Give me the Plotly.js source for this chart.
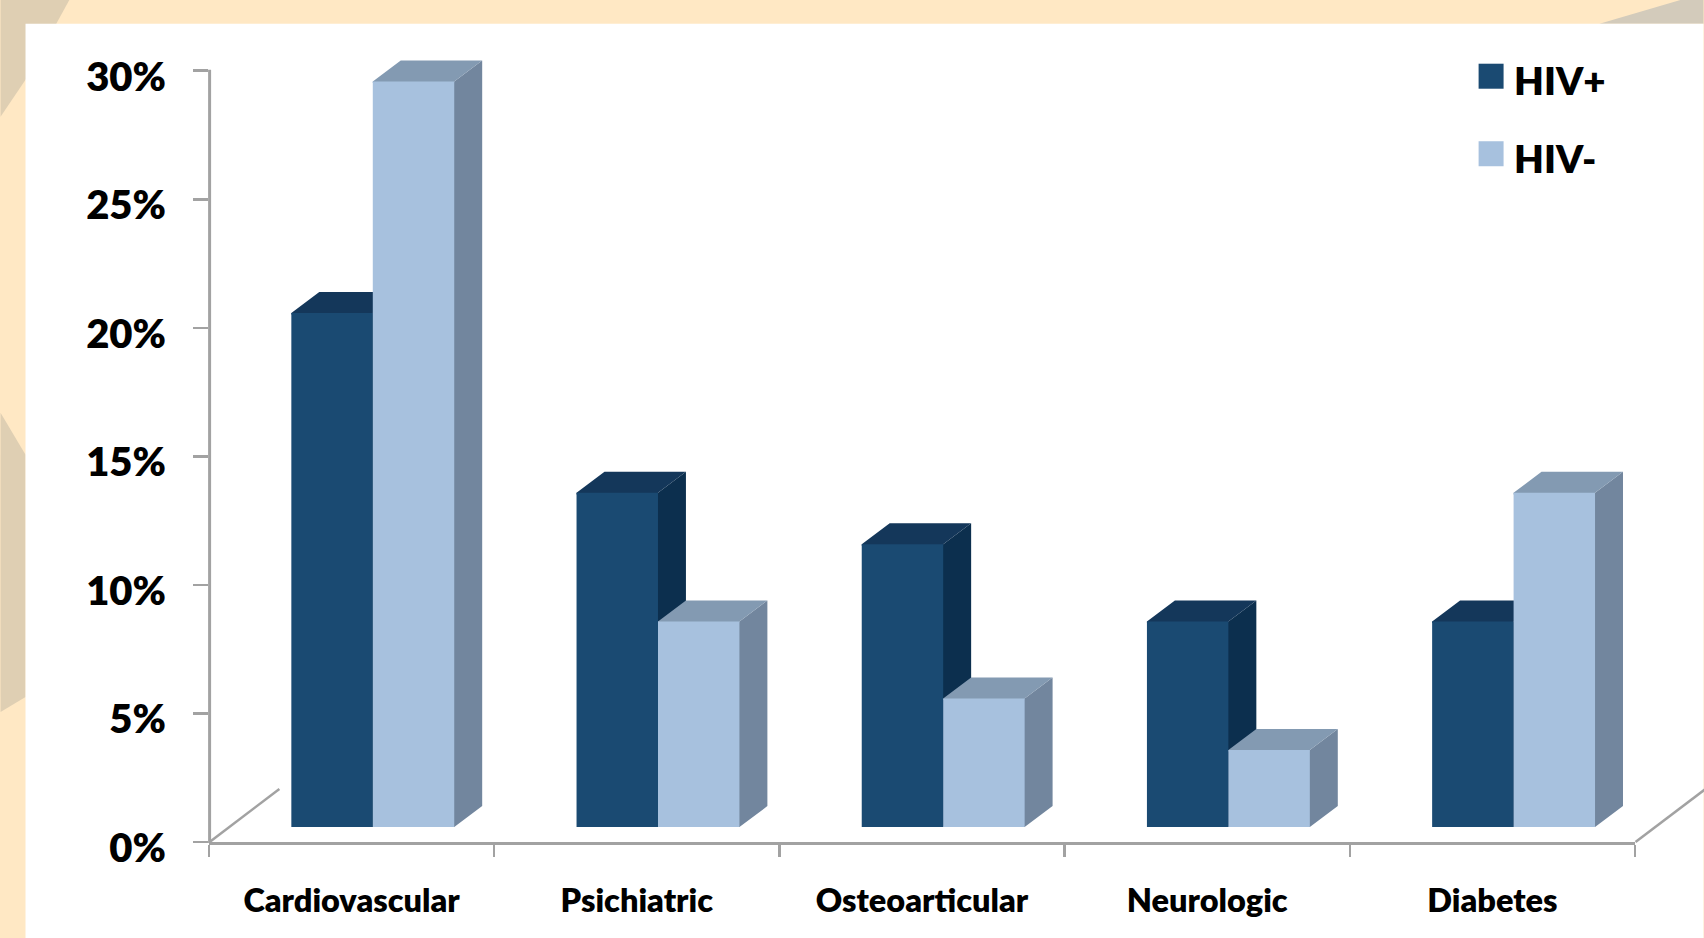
<!DOCTYPE html>
<html>
<head>
<meta charset="utf-8">
<script src="https://cdn.plot.ly/plotly-3.0.1.min.js"></script>
<style>html,body{margin:0;padding:0;background:#FFE8C4;overflow:hidden}#chart{width:1704px;height:938px}</style>
</head>
<body>
<div id="chart"></div>
<script>
// Comorbidity prevalence by HIV status
const categories = ['Cardiovascular', 'Psichiatric', 'Osteoarticular', 'Neurologic', 'Diabetes'];
const hivPositive = [20, 13, 11, 8, 8];
const hivNegative = [29, 8, 5, 3, 13];
const seriesNames = ['HIV+', 'HIV-'];
const yTicks = [0, 5, 10, 15, 20, 25, 30];
const yTickLabels = ['0%', '5%', '10%', '15%', '20%', '25%', '30%'];

// Page geometry, in pixels
const W = 1704, H = 938;
const M = {l: 208.6, r: 68.5, t: 45.3, b: 96};
const plotW = W - M.l - M.r, plotH = H - M.t - M.b;
const px = v => (v - M.l) / plotW;
const py = v => (H - M.b - v) / plotH;

// Pseudo-3D look: the bars stand on a floor raised above the axis and have a receding depth
const floor = 0.58;
const depthX = 0.098, depthY = 0.817;
const barWidth = 0.2856, groupShift = 0.0743;
// The faces tuck slightly under the front of each bar so no seam shows
const tuckX = 0.004, tuckY = 0.06;

const FONT = 'Lato, Carlito, sans-serif';
const GREY = '#A2A2A2';
const palette = {
  pos: {front: '#1A4A72', top: '#14375A', side: '#0C2F4E'},
  neg: {front: '#A7C1DE', top: '#839AB2', side: '#72869E'}
};

function poly(points, color) {
  const d = 'M' + points.map(p => p.join(',')).join('L') + 'Z';
  return {type: 'path', xref: 'x', yref: 'y', layer: 'below', path: d, fillcolor: color, line: {width: 0}};
}
function faces(values, x0Offset, colors) {
  const out = [];
  values.forEach((v, i) => {
    const x0 = i + x0Offset, x1 = x0 + barWidth, yTop = floor + v;
    out.push(poly([[x1 - tuckX, floor], [x1, floor], [x1 + depthX, floor + depthY], [x1 + depthX, yTop + depthY], [x1, yTop], [x1 - tuckX, yTop]], colors.side));
    out.push(poly([[x0, yTop - tuckY], [x0, yTop], [x0 + depthX, yTop + depthY], [x1 + depthX, yTop + depthY], [x1, yTop], [x1, yTop - tuckY]], colors.top));
  });
  return out;
}
function pageShape(points, color) {
  const d = 'M' + points.map(p => px(p[0]) + ',' + py(p[1])).join('L') + 'Z';
  return {type: 'path', xref: 'paper', yref: 'paper', layer: 'below', path: d, fillcolor: color, line: {width: 0}};
}
function pageLine(x0, y0, x1, y1, w) {
  return {type: 'line', xref: 'paper', yref: 'paper', layer: 'below',
    x0: px(x0), y0: py(y0), x1: px(x1), y1: py(y1), line: {color: GREY, width: w}};
}
function swatch(top, color) {
  return {type: 'rect', xref: 'paper', yref: 'paper', layer: 'above',
    x0: px(1479), x1: px(1504), y0: py(top), y1: py(top + 25), fillcolor: color, line: {width: 0}};
}

const backdrop = [
  pageShape([[0, 0], [69, 0], [25, 80], [0, 117]], '#DFCFB3'),
  pageShape([[0, 413], [25, 455], [25, 697], [0, 712]], '#DFCFB3'),
  pageShape([[1600, 24], [1682, 0], [1704, 0], [1704, 24]], '#D3CBBB'),
  pageShape([[25, 24], [1704, 24], [1704, 938], [25, 938]], '#FFFFFF')
];
const furniture = [
  pageLine(209.2, 843, 209.2, 70, 3),
  pageLine(209.2, 842, 279, 789, 2.5),
  pageLine(1636, 842, 1706, 789, 2.5)
];

const traces = [
  {type: 'bar', name: seriesNames[0], x: categories, y: hivPositive, base: floor,
    offset: groupShift - barWidth, width: barWidth, marker: {color: palette.pos.front, line: {width: 0}}},
  {type: 'bar', name: seriesNames[1], x: categories, y: hivNegative, base: floor,
    offset: groupShift, width: barWidth, marker: {color: palette.neg.front, line: {width: 0}}}
];

const legendLabel = (text, y) => ({
  text: text, xref: 'paper', yref: 'paper', x: px(1512.5), y: py(y), xanchor: 'left', yanchor: 'middle',
  showarrow: false, font: {family: FONT, size: 38.5, color: '#000', weight: 800}
});

const layout = {
  width: W, height: H, autosize: false,
  margin: M,
  paper_bgcolor: '#FFE8C4', plot_bgcolor: 'rgba(0,0,0,0)',
  barmode: 'overlay', showlegend: false, hovermode: false,
  xaxis: {
    type: 'category', range: [-0.5, 4.5], tickson: 'boundaries', ticks: 'outside', ticklen: 12, tickwidth: 2.5,
    tickcolor: GREY, showline: true, linecolor: GREY, linewidth: 3, showgrid: false, zeroline: false,
    ticklabelstandoff: 28, tickangle: 0,
    tickfont: {family: FONT, size: 32.5, color: '#000', weight: 800}
  },
  yaxis: {
    range: [0, 31], tickmode: 'array', tickvals: yTicks, ticktext: yTickLabels, ticks: 'outside', ticklen: 15, tickwidth: 2.5,
    tickcolor: GREY, showline: false, showgrid: false, zeroline: false,
    ticklabelstandoff: 19, ticklabelshift: 6,
    tickfont: {family: FONT, size: 40, color: '#000', weight: 800}
  },
  shapes: [...backdrop, ...furniture,
    ...faces(hivPositive, groupShift - barWidth, palette.pos),
    ...faces(hivNegative, groupShift, palette.neg),
    swatch(64, palette.pos.front), swatch(141.5, palette.neg.front)],
  annotations: [legendLabel(seriesNames[0], 80), legendLabel(seriesNames[1], 158)]
};

Plotly.newPlot('chart', traces, layout, {displayModeBar: false, staticPlot: true});
</script>
</body>
</html>
